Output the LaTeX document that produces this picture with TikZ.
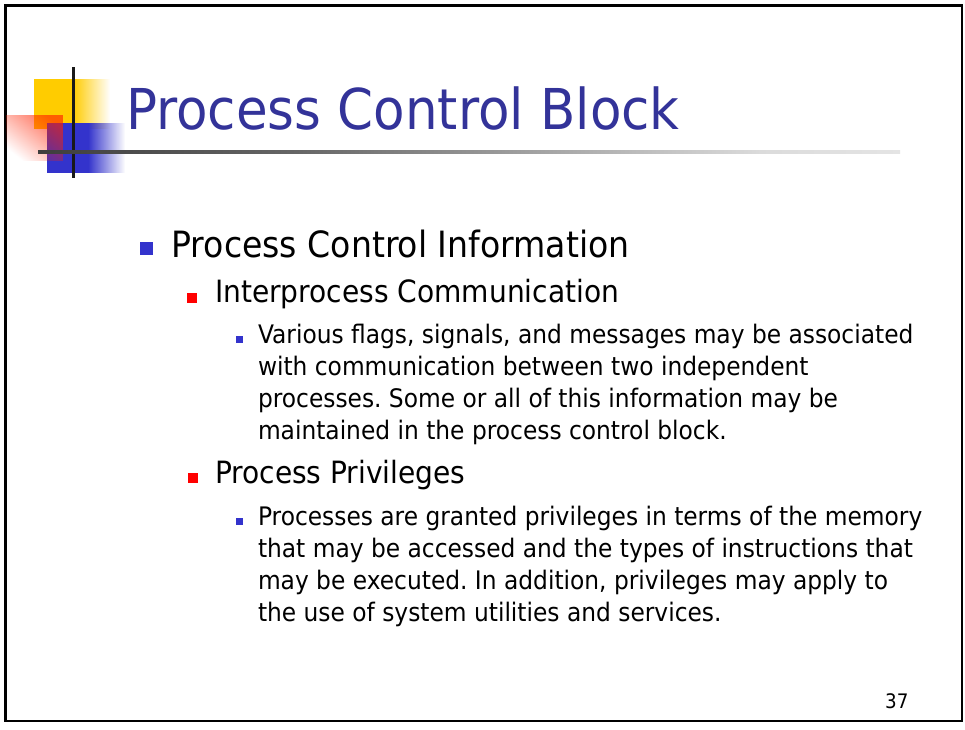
\documentclass[tikz,border=0pt]{standalone}
\usepackage{fontspec}
\setmainfont{DejaVu Sans}[FakeStretch=0.915]
\usetikzlibrary{fadings}
\frenchspacing

\definecolor{titleblue}{HTML}{333399}
\definecolor{bulletblue}{HTML}{3333CC}
\definecolor{bulletred}{HTML}{FF0000}
\definecolor{decoyellow}{HTML}{FFCC00}
\definecolor{decored}{HTML}{FF2200}

% opaque on the left, clear on the right
\tikzfading[name=fadeout right, left color=transparent!0, right color=transparent!100]
% clear on the left, half opaque on the right (rotated for the corner glow)
\tikzfading[name=glowcorner, left color=transparent!100, right color=transparent!35]
% title rule: dark on the left, vanishing on the right
\pgfdeclarehorizontalshading{ruleshade}{100bp}{color(0bp)=(black!90); color(19bp)=(black!82); color(40bp)=(black!60); color(67bp)=(black!14); color(100bp)=(white)}

\begin{document}
\begin{tikzpicture}[x=1pt,y=-1pt,
  every node/.style={inner sep=0pt, outer sep=0pt, anchor=base west},
  slidetitle/.style={font=\fontsize{56.3}{60}\selectfont, text=titleblue},
  lvlone/.style={font=\fontsize{36.2}{40}\selectfont},
  lvltwo/.style={font=\fontsize{30.7}{34}\selectfont},
  lvlthree/.style={font=\fontsize{25.5}{32}\selectfont},
  pagenum/.style={font=\fontsize{20}{24}\selectfont, anchor=base east},
  bulletone/.style={fill=bulletblue},
  bullettwo/.style={fill=bulletred},
  bulletthree/.style={fill=bulletblue},
]
\useasboundingbox (0,0) rectangle (965,729);
\fill[white] (0,0) rectangle (965,729);

% slide frame
\draw[line width=2.5pt] (5.5,5.5) rectangle (962,721);

% corner ornament: yellow and blue blocks fading to the right
\fill[decoyellow] (34,79) rectangle (73,129);
\fill[decoyellow, path fading=fadeout right] (73,79) rectangle (110,129);
\fill[bulletblue] (47,123) rectangle (88,173);
\fill[bulletblue, path fading=fadeout right] (88,123) rectangle (125,173);
% translucent red block, strongest in its upper right corner
\fill[decored, path fading=glowcorner, fading angle=45] (6,115) rectangle (63,161);
% crossing rules
\fill[black!90] (71.5,67) rectangle (74.5,178);
\shade[shading=ruleshade] (38,150.5) rectangle (900,153.5);

% title
\node[slidetitle] (title) at (126,129.3) {Process Control Block};

% level 1
\fill[bulletone] (140,242) rectangle (153,255);
\node[lvlone] (pci) at (171.5,257.3) {Process Control Information};

% level 2: interprocess communication
\fill[bullettwo] (187.3,292.7) rectangle (197.3,302.7);
\node[lvltwo] (ipc) at (215,302.7) {Interprocess Communication};

\fill[bulletthree] (236,336) rectangle (243,343);
\node[lvlthree] (ipca) at (258,343) {Various flags, signals, and messages may be associated};
\node[lvlthree] (ipcb) at (258,375) {with communication between two independent};
\node[lvlthree] (ipcc) at (258,407) {processes. Some or all of this information may be};
\node[lvlthree] (ipcd) at (258,439) {maintained in the process control block.};

% level 2: process privileges
\fill[bullettwo] (188,473.3) rectangle (198,483.3);
\node[lvltwo] (priv) at (215,483.3) {Process Privileges};

\fill[bulletthree] (236,518) rectangle (243,525);
\node[lvlthree] (priva) at (258,525) {Processes are granted privileges in terms of the memory};
\node[lvlthree] (privb) at (258,557) {that may be accessed and the types of instructions that};
\node[lvlthree] (privc) at (258,589) {may be executed. In addition, privileges may apply to};
\node[lvlthree] (privd) at (258,621) {the use of system utilities and services.};

% page number
\node[pagenum] (page) at (908.5,708.3) {37};
\end{tikzpicture}
\end{document}
